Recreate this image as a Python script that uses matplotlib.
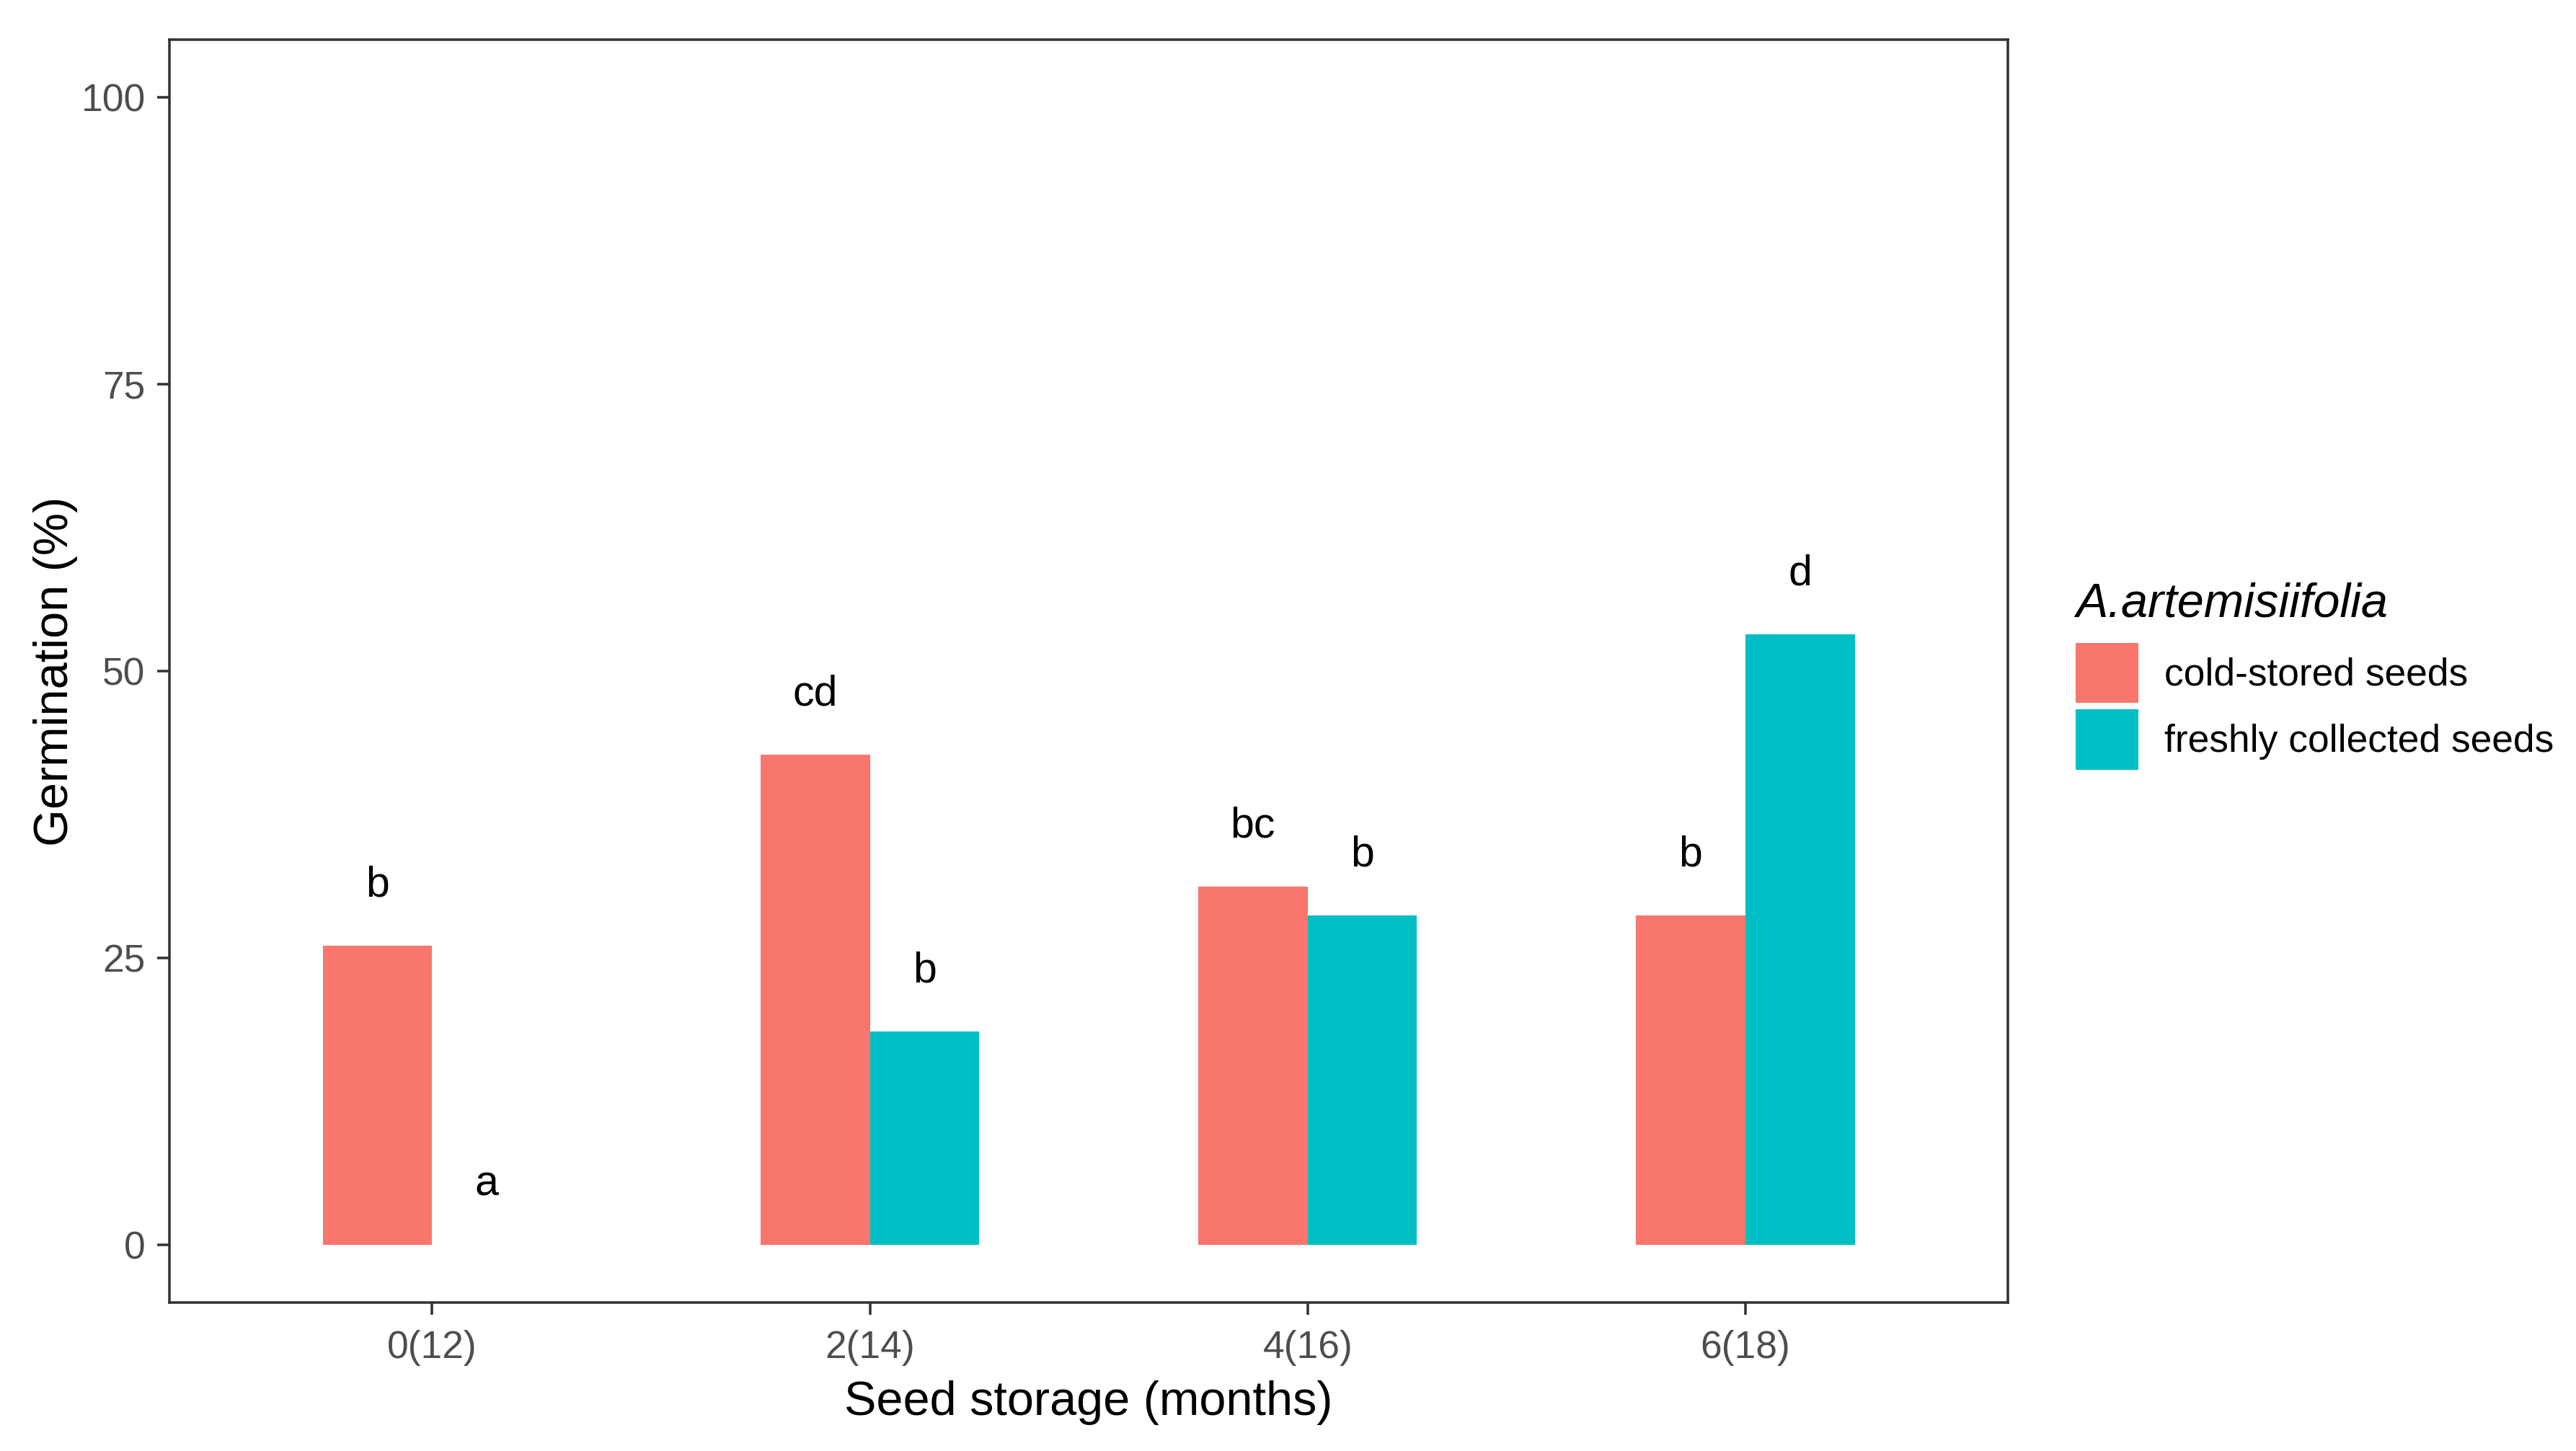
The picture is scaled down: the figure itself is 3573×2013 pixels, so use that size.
import matplotlib
matplotlib.use("Agg")
import matplotlib.pyplot as plt
import numpy as np
from matplotlib.patches import Patch

plt.rcParams['font.family'] = ['Liberation Sans', 'DejaVu Sans']

# data
storage = ['0(12)', '2(14)', '4(16)', '6(18)']
cold_stored = [26.1, 42.7, 31.2, 28.7]
freshly_collected = [0.0, 18.6, 28.7, 53.2]
cold_letters = ['b', 'cd', 'bc', 'b']
fresh_letters = ['a', 'b', 'b', 'd']
series_names = ['cold-stored seeds', 'freshly collected seeds']
colours = ['#F8766D', '#00BFC4']

bar_w = 0.25
x = np.arange(len(storage))

fig = plt.figure(figsize=(3573 / 300, 2013 / 300), dpi=300)
ax = fig.add_axes([0.0658, 0.1023, 0.7137, 0.8704])

ax.bar(x - bar_w / 2, cold_stored, width=bar_w, color=colours[0], linewidth=0)
ax.bar(x + bar_w / 2, freshly_collected, width=bar_w, color=colours[1], linewidth=0)

# significance letters
for i in range(len(storage)):
    ax.text(x[i] - bar_w / 2, cold_stored[i] + 4.3, cold_letters[i],
            ha='center', va='baseline', fontsize=14.2, color='black')
    ax.text(x[i] + bar_w / 2, freshly_collected[i] + 4.3, fresh_letters[i],
            ha='center', va='baseline', fontsize=14.2, color='black')

ax.set_xlim(-0.6, 3.6)
ax.set_ylim(-5, 105)
ax.set_xticks(x)
ax.set_xticklabels(storage)
ax.set_yticks([0, 25, 50, 75, 100])

for s in ax.spines.values():
    s.set_color('#333333')
    s.set_linewidth(0.85)
ax.tick_params(axis='both', colors='#333333', width=0.85, length=4,
               labelsize=12.8, labelcolor='#4D4D4D')
ax.tick_params(axis='x', pad=5)
ax.tick_params(axis='y', pad=4)

ax.set_xlabel('Seed storage (months)', fontsize=16, labelpad=5)
ax.set_ylabel('Germination (%)', fontsize=16, labelpad=1)

handles = [Patch(facecolor=colours[0], edgecolor='none'),
           Patch(facecolor=colours[1], edgecolor='none')]
leg = ax.legend(handles, series_names, title='A.artemisiifolia',
                loc='upper left', bbox_to_anchor=(2879 / 3573, 1 - 807 / 2013),
                bbox_transform=fig.transFigure, frameon=False, fontsize=12.8,
                title_fontsize=16, handlelength=1.63, handleheight=2.02,
                handletextpad=0.68, labelspacing=0.17, borderpad=0,
                borderaxespad=0)
leg.get_title().set_fontstyle('italic')
leg._legend_box.align = 'left'
leg._legend_box.sep = 5.6

fig.savefig('out.png', dpi=300, facecolor='white')
